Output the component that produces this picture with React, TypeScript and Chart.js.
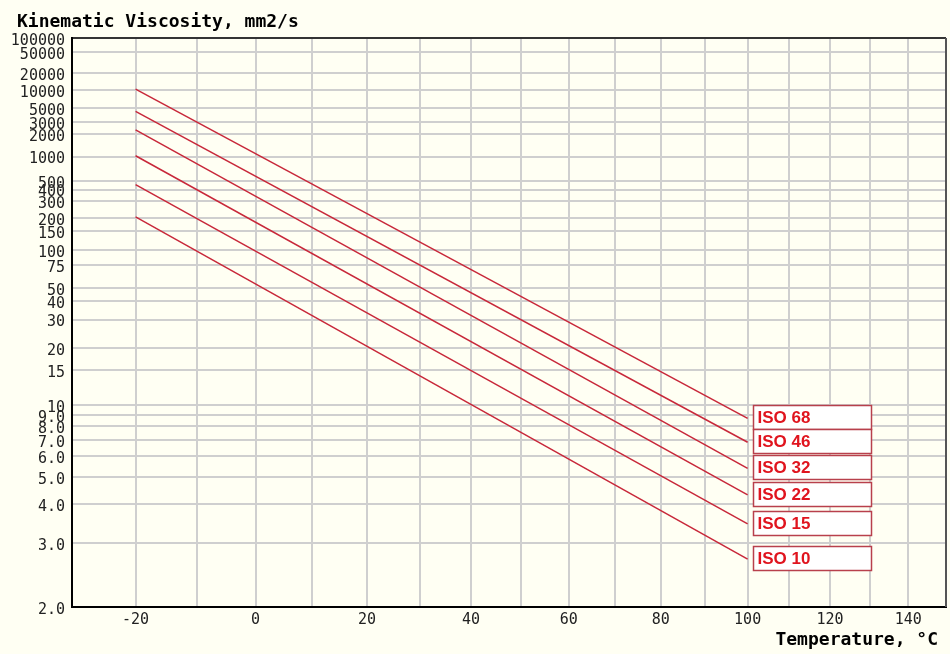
import React, { useEffect, useRef } from "react";
import { Chart, registerables, Scale } from "chart.js";

// ---- data ----
const temperatures = [-20, 100];
const seriesNames = ["ISO 68", "ISO 46", "ISO 32", "ISO 22", "ISO 15", "ISO 10"];
const iso68 = [10250, 8.68];
const iso46 = [4430, 6.83];
const iso32 = [2320, 5.38];
const iso22 = [1025, 4.3];
const iso15 = [456, 3.44];
const iso10 = [206, 2.69];
const seriesValues = [iso68, iso46, iso32, iso22, iso15, iso10];

const yTickValues = [2, 3, 4, 5, 6, 7, 8, 9, 10, 15, 20, 30, 40, 50, 75, 100, 150, 200, 300, 400, 500, 1000, 2000, 3000, 5000, 10000, 20000, 50000, 100000];
const yTickLabels = ["2.0", "3.0", "4.0", "5.0", "6.0", "7.0", "8.0", "9.0", "10", "15", "20", "30", "40", "50", "75", "100", "150", "200", "300", "400", "500", "1000", "2000", "3000", "5000", "10000", "20000", "50000", "100000"];
const xTickValues = [-30, -20, -10, 0, 10, 20, 30, 40, 50, 60, 70, 80, 90, 100, 110, 120, 130, 140, 150];
const xTickLabels = ["", "-20", "", "0", "", "20", "", "40", "", "60", "", "80", "", "100", "", "120", "", "140", ""];

const yTitle = "Kinematic Viscosity, mm2/s";
const xTitle = "Temperature, °C";

// ---- transforms (ASTM D341 Walther chart) ----
const walther = (v: number) => Math.log10(Math.log10(v + 0.7));
const waltherInv = (f: number) => Math.pow(10, Math.pow(10, f)) - 0.7;
const logK = (t: number) => Math.log10(t + 273.15);
const logKInv = (f: number) => Math.pow(10, f) - 273.15;

function makeScale(id: string, fwd: (v: number) => number, inv: (f: number) => number, ticks: number[]) {
  class CustomScale extends (Scale as any) {
    static id = id;
    static defaults = {};
    determineDataLimits() {
      const { min, max } = (this as any).getUserBounds();
      (this as any).min = min;
      (this as any).max = max;
    }
    buildTicks() {
      return ticks.map((v) => ({ value: v }));
    }
    configure() {
      super.configure();
      (this as any)._sv = fwd((this as any).min);
      (this as any)._vr = fwd((this as any).max) - fwd((this as any).min);
    }
    getLabelForValue(v: number) {
      return String(v);
    }
    getPixelForValue(v: number) {
      const s: any = this;
      return s.getPixelForDecimal((fwd(v) - s._sv) / s._vr);
    }
    getValueForPixel(p: number) {
      const s: any = this;
      return inv(s._sv + s.getDecimalForPixel(p) * s._vr);
    }
  }
  return CustomScale;
}

const WaltherScale = makeScale("walther", walther, waltherInv, yTickValues);
const LogKelvinScale = makeScale("logkelvin", logK, logKInv, xTickValues);

Chart.register(...registerables, WaltherScale as any, LogKelvinScale as any);

const BG = "#fffff3";
const TICK_FONT = '15px "DejaVu Sans Mono", monospace';

const framePlugin = {
  id: "frame",
  beforeDraw(chart: any) {
    const ctx = chart.ctx;
    ctx.save();
    ctx.fillStyle = BG;
    ctx.fillRect(0, 0, chart.width, chart.height);
    ctx.restore();
  },
  afterDraw(chart: any) {
    const ctx = chart.ctx;
    const a = chart.chartArea;
    ctx.save();
    ctx.strokeStyle = "#000";
    ctx.lineWidth = 1.5;
    ctx.beginPath();
    ctx.moveTo(a.left, a.top);
    ctx.lineTo(a.right, a.top);
    ctx.stroke();
    ctx.strokeStyle = "#555";
    ctx.lineWidth = 2;
    ctx.beginPath();
    ctx.moveTo(a.right, a.top);
    ctx.lineTo(a.right, a.bottom);
    ctx.stroke();

    // y tick labels (sit slightly below their grid lines, as in the original)
    const ys = chart.scales.y;
    ctx.fillStyle = "#222";
    ctx.font = TICK_FONT;
    ctx.textAlign = "right";
    ctx.textBaseline = "middle";
    yTickValues.forEach((v, i) => {
      ctx.fillText(yTickLabels[i], a.left - 7, ys.getPixelForValue(v) + 3);
    });

    // titles
    ctx.fillStyle = "#000";
    ctx.font = 'bold 18px "DejaVu Sans Mono", monospace';
    ctx.textBaseline = "alphabetic";
    ctx.textAlign = "left";
    ctx.fillText(yTitle, 17, 27);
    ctx.textAlign = "right";
    ctx.fillText(xTitle, 938, 645);

    // series labels
    const xs = chart.scales.x;
    chart.data.datasets.forEach((ds: any) => {
      const last = ds.data[ds.data.length - 1];
      const px = xs.getPixelForValue(last.x);
      const py = ys.getPixelForValue(last.y);
      const bx = Math.round(px + 5) + 0.5;
      const by = Math.round(py - 13) + 0.5;
      ctx.fillStyle = "#ffffff";
      ctx.fillRect(bx, by, 118, 24);
      ctx.strokeStyle = "#b8404c";
      ctx.lineWidth = 1.5;
      ctx.strokeRect(bx, by, 118, 24);
      ctx.fillStyle = "#e0141e";
      ctx.font = 'bold 17px "Liberation Sans", Arial, sans-serif';
      ctx.textAlign = "left";
      ctx.textBaseline = "middle";
      ctx.fillText(ds.label, bx + 4, by + 13);
    });
    ctx.restore();
  },
};

export default function App() {
  const ref = useRef<HTMLCanvasElement | null>(null);
  useEffect(() => {
    if (!ref.current) return;
    const datasets = seriesNames.map((name, i) => ({
      label: name,
      data: temperatures.map((t, j) => ({ x: t, y: seriesValues[i][j] })),
      borderColor: "#c8283a",
      borderWidth: 1.5,
      pointRadius: 0,
      tension: 0,
      fill: false,
    }));
    const chart = new Chart(ref.current, {
      type: "line",
      data: { datasets },
      plugins: [framePlugin],
      options: {
        animation: false,
        responsive: true,
        maintainAspectRatio: false,
        layout: { padding: { top: 38, right: 2, left: 0, bottom: 0 } },
        plugins: { legend: { display: false }, tooltip: { enabled: false }, title: { display: false } },
        scales: {
          x: {
            type: "logkelvin" as any,
            min: -30,
            max: 150,
            grid: { color: "#cfcfcf", lineWidth: 2, drawTicks: false },
            border: { color: "#000", width: 2 },
            ticks: {
              autoSkip: false,
              maxRotation: 0,
              padding: 4,
              color: "#222",
              font: { family: '"DejaVu Sans Mono", monospace', size: 15 },
              callback: (_v: any, i: number) => xTickLabels[i],
            },
            afterFit: (s: any) => {
              s.height = 47;
            },
          },
          y: {
            type: "walther" as any,
            min: 2,
            max: 100000,
            grid: { color: "#cfcfcf", lineWidth: 2, drawTicks: false },
            border: { color: "#000", width: 2 },
            ticks: { display: false, autoSkip: false },
            afterFit: (s: any) => {
              s.width = 72;
            },
          },
        },
      } as any,
    });
    return () => chart.destroy();
  }, []);
  return (
    <div style={{ position: "absolute", left: 0, top: 0, width: 950, height: 654, background: BG }}>
      <canvas ref={ref} />
    </div>
  );
}
